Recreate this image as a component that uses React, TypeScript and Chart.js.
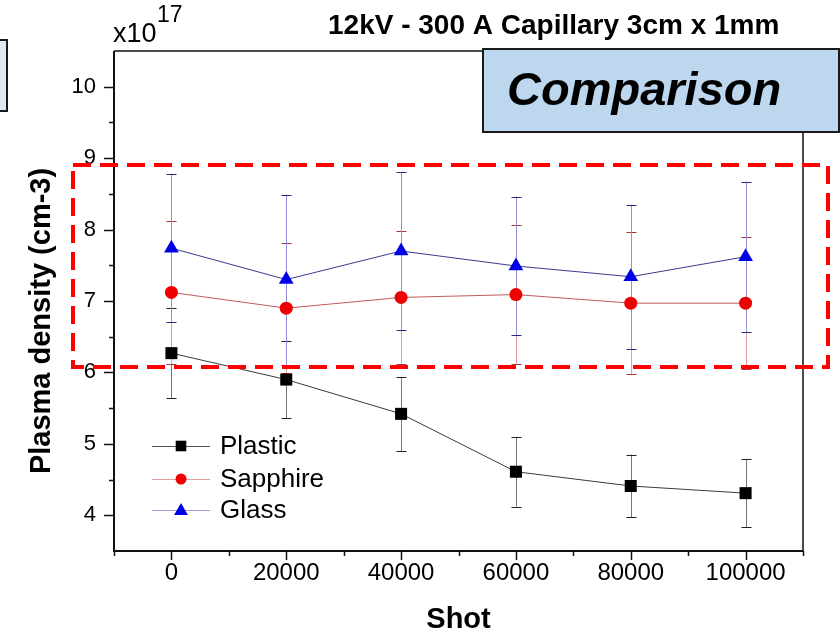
import React, { useEffect, useRef } from 'react';
import { Chart, registerables } from 'chart.js';

Chart.register(...registerables);

// ---- data ----
const shots = [0, 20000, 40000, 60000, 80000, 100000];
const plasticValues = [6.27, 5.9, 5.42, 4.61, 4.41, 4.31];
const plasticErrors = [0.63, 0.54, 0.52, 0.49, 0.44, 0.48];
const sapphireValues = [7.12, 6.9, 7.05, 7.09, 6.97, 6.97];
const sapphireErrors = [1.0, 0.91, 0.93, 0.97, 0.99, 0.92];
const glassValues = [7.74, 7.3, 7.7, 7.49, 7.34, 7.62];
const glassErrors = [1.04, 1.19, 1.1, 0.97, 1.01, 1.05];
const seriesNames = ['Plastic', 'Sapphire', 'Glass'];

const xTickValues = [0, 20000, 40000, 60000, 80000, 100000];
const xMinorValues = [-10000, 10000, 30000, 50000, 70000, 90000, 110000];
const yTickValues = [4, 5, 6, 7, 8, 9, 10];
const yMinorValues = [4.5, 5.5, 6.5, 7.5, 8.5, 9.5];
const xRange = [-10000, 110000];
const yRange = [3.5, 10.5];

const titleText = '12kV - 300 A Capillary 3cm x 1mm';
const boxText = 'Comparison';
const xTitle = 'Shot';
const yTitle = 'Plasma density (cm-3)';
const exponentBase = 'x10';
const exponentPower = '17';

const FONT = "Arial, 'Liberation Sans', sans-serif";

const styles = [
  { line: '#3a3a3a', marker: '#000000', bar: '#777777', cap: '#222222', legendLine: '#555555', shape: 'rect' },
  { line: '#c05a5a', marker: '#ee0000', bar: '#e2a0a0', cap: '#a03a3a', legendLine: '#e0a0a0', shape: 'circle' },
  { line: '#3a3a90', marker: '#0000e6', bar: '#9090d8', cap: '#2a2a80', legendLine: '#a0a0e0', shape: 'triangle' },
];

const seriesValues = [plasticValues, sapphireValues, glassValues];
const seriesErrors = [plasticErrors, sapphireErrors, glassErrors];

function drawMarker(ctx: CanvasRenderingContext2D, shape: string, x: number, y: number, r: number, color: string) {
  ctx.save();
  ctx.fillStyle = color;
  ctx.beginPath();
  if (shape === 'rect') {
    const s = r * Math.SQRT1_2;
    ctx.rect(x - s, y - s, 2 * s, 2 * s);
  } else if (shape === 'circle') {
    ctx.arc(x, y, r, 0, Math.PI * 2);
  } else {
    ctx.moveTo(x, y - r);
    ctx.lineTo(x + r * 0.866, y + r / 2);
    ctx.lineTo(x - r * 0.866, y + r / 2);
    ctx.closePath();
  }
  ctx.fill();
  ctx.restore();
}

const errorBarPlugin = {
  id: 'errorBars',
  beforeDatasetsDraw(chart: any) {
    const { ctx } = chart;
    const xs = chart.scales.x;
    const ys = chart.scales.y;
    ctx.save();
    seriesValues.forEach((vals, si) => {
      const st = styles[si];
      vals.forEach((v, i) => {
        const px = Math.round(xs.getPixelForValue(shots[i])) + 0.5;
        const top = ys.getPixelForValue(v + seriesErrors[si][i]);
        const bot = ys.getPixelForValue(v - seriesErrors[si][i]);
        ctx.lineWidth = 1;
        ctx.strokeStyle = st.bar;
        ctx.beginPath();
        ctx.moveTo(px, top);
        ctx.lineTo(px, bot);
        ctx.stroke();
        ctx.strokeStyle = st.cap;
        ctx.beginPath();
        ctx.moveTo(px - 5, Math.round(top) + 0.5);
        ctx.lineTo(px + 5, Math.round(top) + 0.5);
        ctx.moveTo(px - 5, Math.round(bot) + 0.5);
        ctx.lineTo(px + 5, Math.round(bot) + 0.5);
        ctx.stroke();
      });
    });
    ctx.restore();
  },
};

const decorPlugin = {
  id: 'decor',
  afterDraw(chart: any) {
    const { ctx, chartArea } = chart;
    const xs = chart.scales.x;
    const ys = chart.scales.y;
    const { left, right, top, bottom } = chartArea;
    ctx.save();

    // frame
    ctx.strokeStyle = '#111111';
    ctx.lineWidth = 2;
    ctx.beginPath();
    ctx.moveTo(left, top);
    ctx.lineTo(left, bottom);
    ctx.lineTo(right, bottom);
    ctx.stroke();
    ctx.lineWidth = 1.5;
    ctx.beginPath();
    ctx.moveTo(left, top);
    ctx.lineTo(right, top);
    ctx.lineTo(right, bottom);
    ctx.stroke();

    // ticks
    ctx.lineWidth = 1.5;
    ctx.beginPath();
    yTickValues.forEach((v) => {
      const py = Math.round(ys.getPixelForValue(v)) + 0.5;
      ctx.moveTo(left - 10, py);
      ctx.lineTo(left, py);
    });
    yMinorValues.forEach((v) => {
      const py = Math.round(ys.getPixelForValue(v)) + 0.5;
      ctx.moveTo(left - 5, py);
      ctx.lineTo(left, py);
    });
    xTickValues.forEach((v) => {
      const px = Math.round(xs.getPixelForValue(v)) + 0.5;
      ctx.moveTo(px, bottom);
      ctx.lineTo(px, bottom + 9);
    });
    xMinorValues.forEach((v) => {
      const px = Math.round(xs.getPixelForValue(v)) + 0.5;
      ctx.moveTo(px, bottom);
      ctx.lineTo(px, bottom + 5);
    });
    ctx.stroke();

    // legend
    const legendRows = [446, 479, 510];
    seriesNames.forEach((name, i) => {
      const st = styles[i];
      const ly = legendRows[i];
      ctx.strokeStyle = st.legendLine;
      ctx.lineWidth = 1;
      ctx.beginPath();
      ctx.moveTo(152, ly + 0.5);
      ctx.lineTo(210, ly + 0.5);
      ctx.stroke();
      const r = st.shape === 'rect' ? 7.5 : st.shape === 'circle' ? 5.5 : 8;
      drawMarker(ctx, st.shape, 181, ly + (st.shape === 'triangle' ? 1 : 0), r, st.marker);
      ctx.fillStyle = '#000000';
      ctx.font = `26px ${FONT}`;
      ctx.textAlign = 'left';
      ctx.textBaseline = 'middle';
      ctx.fillText(name, 220, ly + 1);
    });

    // exponent label
    ctx.fillStyle = '#000000';
    ctx.textAlign = 'left';
    ctx.textBaseline = 'alphabetic';
    ctx.font = `27px ${FONT}`;
    ctx.fillText(exponentBase, 113, 42);
    ctx.font = `23px ${FONT}`;
    ctx.fillText(exponentPower, 157, 22);

    // title
    ctx.font = `bold 28px ${FONT}`;
    ctx.fillText(titleText, 328, 34);

    // y title
    ctx.save();
    ctx.translate(42, 321);
    ctx.rotate(-Math.PI / 2);
    ctx.font = `bold 29px ${FONT}`;
    ctx.textAlign = 'center';
    ctx.textBaseline = 'middle';
    ctx.fillText(yTitle, 0, 0);
    ctx.restore();

    // red dashed rectangle
    ctx.strokeStyle = '#ff0000';
    ctx.lineWidth = 4;
    ctx.setLineDash([18, 9]);
    ctx.strokeRect(73, 165, 755, 202);
    ctx.setLineDash([]);

    // comparison box
    ctx.fillStyle = '#bdd7ee';
    ctx.fillRect(483, 49, 356, 83);
    ctx.strokeStyle = '#1a1a1a';
    ctx.lineWidth = 2;
    ctx.strokeRect(483, 49, 356, 83);
    ctx.fillStyle = '#000000';
    ctx.font = `italic bold 47px ${FONT}`;
    ctx.textAlign = 'left';
    ctx.textBaseline = 'alphabetic';
    ctx.fillText(boxText, 507, 105);

    // left-edge box
    ctx.fillStyle = '#deebf7';
    ctx.fillRect(-5, 40, 12, 71);
    ctx.strokeStyle = '#1a1a1a';
    ctx.lineWidth = 2;
    ctx.strokeRect(-5, 40, 12, 71);

    ctx.restore();
  },
};

export default function App() {
  const canvasRef = useRef<HTMLCanvasElement | null>(null);

  useEffect(() => {
    const canvas = canvasRef.current;
    if (!canvas) return;
    const datasets = seriesNames.map((name, si) => ({
      label: name,
      data: shots.map((s, i) => ({ x: s, y: seriesValues[si][i] })),
      borderColor: styles[si].line,
      borderWidth: 1,
      pointStyle: styles[si].shape,
      pointRadius: styles[si].shape === 'rect' ? 8.5 : styles[si].shape === 'circle' ? 6.5 : 8.5,
      pointBackgroundColor: styles[si].marker,
      pointBorderColor: styles[si].marker,
      pointBorderWidth: 0,
      tension: 0,
      fill: false,
    }));

    const chart = new Chart(canvas, {
      type: 'line',
      data: { datasets },
      options: {
        animation: false,
        responsive: false,
        maintainAspectRatio: false,
        layout: { padding: { top: 51, right: 37, left: 0, bottom: 0 } },
        plugins: {
          legend: { display: false },
          tooltip: { enabled: false },
        },
        scales: {
          x: {
            type: 'linear',
            min: xRange[0],
            max: xRange[1],
            afterBuildTicks: (scale: any) => {
              scale.ticks = xTickValues.map((v) => ({ value: v }));
            },
            afterFit: (scale: any) => {
              scale.height = 83;
            },
            grid: { display: false, drawTicks: false },
            border: { display: false },
            ticks: {
              color: '#000000',
              padding: 8,
              maxRotation: 0,
              autoSkip: false,
              font: { family: FONT, size: 24 },
              callback: (v: any) => String(v),
            },
            title: {
              display: true,
              text: xTitle,
              color: '#000000',
              font: { family: FONT, size: 29, weight: 'bold', lineHeight: 1 },
              padding: { top: 0, bottom: 0 },
            },
          },
          y: {
            type: 'linear',
            min: yRange[0],
            max: yRange[1],
            afterBuildTicks: (scale: any) => {
              scale.ticks = yTickValues.map((v) => ({ value: v }));
            },
            afterFit: (scale: any) => {
              scale.width = 114;
            },
            grid: { display: false, drawTicks: false },
            border: { display: false },
            ticks: {
              color: '#000000',
              padding: 18,
              autoSkip: false,
              font: { family: FONT, size: 22 },
              callback: (v: any) => String(v),
            },
          },
        },
      },
      plugins: [errorBarPlugin, decorPlugin],
    } as any);

    return () => {
      chart.destroy();
    };
  }, []);

  return (
    <div style={{ position: 'absolute', left: 0, top: 0, width: 840, height: 634, background: '#ffffff' }}>
      <canvas ref={canvasRef} width={840} height={634} style={{ display: 'block' }} />
    </div>
  );
}
